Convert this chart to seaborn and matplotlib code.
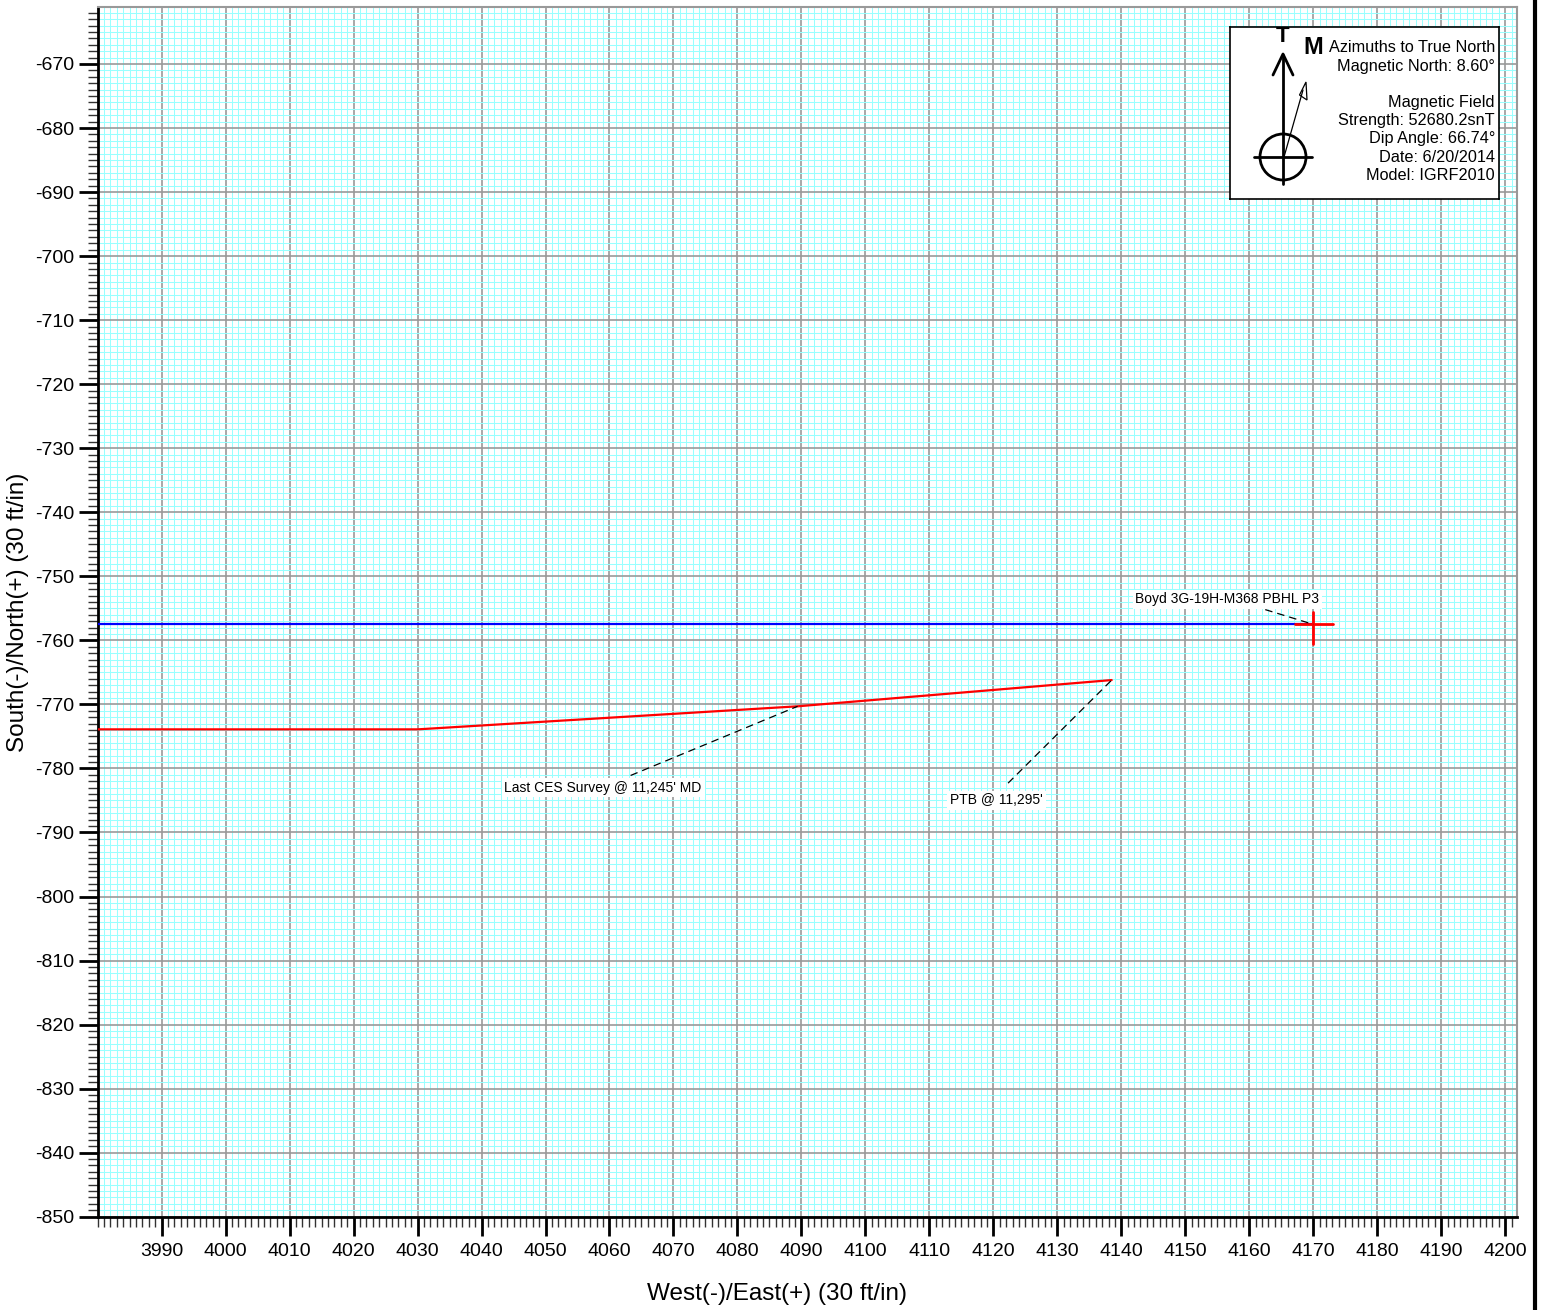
import matplotlib
matplotlib.use("Agg")
import matplotlib.pyplot as plt
from matplotlib.ticker import MultipleLocator, FixedLocator
from matplotlib.patches import Circle, Polygon
from matplotlib.lines import Line2D
import seaborn as sns
import pandas as pd

# ---- data ----
plan_x = [3975, 4170]
plan_y = [-757.5, -757.5]
actual_x = [3975, 4030, 4089.4, 4138.5]
actual_y = [-773.9, -773.9, -770.3, -766.2]
target_x = 4170
target_y = -757.5

x_ticks = [3990, 4000, 4010, 4020, 4030, 4040, 4050, 4060, 4070, 4080, 4090, 4100,
           4110, 4120, 4130, 4140, 4150, 4160, 4170, 4180, 4190, 4200]
y_ticks = [-850, -840, -830, -820, -810, -800, -790, -780, -770, -760, -750, -740,
           -730, -720, -710, -700, -690, -680, -670]

ann_texts = ["Last CES Survey @ 11,245' MD", "PTB @ 11,295'", "Boyd 3G-19H-M368 PBHL P3"]
ann_text_x = [4059.0, 4120.5, 4156.6]
ann_text_y = [-783.0, -785.0, -753.6]
ann_from_x = [4063.3, 4122.3, 4162.5]
ann_from_y = [-781.1, -782.3, -755.2]
ann_to_x = [4089.4, 4138.5, 4170.0]
ann_to_y = [-770.3, -766.2, -757.5]

legend_lines = ["Azimuths to True North", "Magnetic North: 8.60\u00b0", "",
                "Magnetic Field", "Strength: 52680.2snT", "Dip Angle: 66.74\u00b0",
                "Date: 6/20/2014", "Model: IGRF2010"]

sns.set_theme(style="white")
plt.rcParams['font.family'] = ['Liberation Sans', 'DejaVu Sans']
plt.rcParams['axes.unicode_minus'] = False
plt.rcParams['text.color'] = 'black'
plt.rcParams['axes.labelcolor'] = 'black'

W, H = 1541, 1310
fig = plt.figure(figsize=(W / 100, H / 100), dpi=100)
fig.patch.set_facecolor("white")
L, R, T, B = 97.7, 1517.3, 7.0, 1216.7
ax = fig.add_axes([L / W, (H - B) / H, (R - L) / W, (B - T) / H])
ax.set_facecolor("white")

df_plan = pd.DataFrame({"x": plan_x, "y": plan_y})
df_act = pd.DataFrame({"x": actual_x, "y": actual_y})
sns.lineplot(data=df_plan, x="x", y="y", sort=False, color="#0000ff", lw=1.6, ax=ax, zorder=3)
sns.lineplot(data=df_act, x="x", y="y", sort=False, color="#ff0000", lw=1.6, ax=ax, zorder=3)
ax.set_xlabel("")
ax.set_ylabel("")

# target cross
ax.plot([target_x - 2.8, target_x + 3.1], [target_y, target_y], color="#ff0000", lw=2, zorder=4)
ax.plot([target_x, target_x], [target_y + 2.0, target_y - 3.0], color="#ff0000", lw=2, zorder=4)

for t, tx, ty, fx, fy, px, py in zip(ann_texts, ann_text_x, ann_text_y, ann_from_x, ann_from_y, ann_to_x, ann_to_y):
    ax.plot([fx, px], [fy, py], color="black", lw=0.9, ls=(0, (6, 4)), zorder=5)
    ax.text(tx, ty, t, fontsize=10, color="black", ha="center", va="center", zorder=6,
            bbox=dict(facecolor="white", edgecolor="none", pad=2))

ax.xaxis.set_major_locator(FixedLocator(x_ticks))
ax.xaxis.set_minor_locator(MultipleLocator(1))
ax.yaxis.set_major_locator(FixedLocator(y_ticks))
ax.yaxis.set_minor_locator(MultipleLocator(1))
ax.set_xlim(3980, 4201.9)
ax.set_ylim(-850, -661.1)
ax.grid(which="minor", color="#99ffff", lw=0.75, zorder=0)
ax.grid(which="major", color="#999999", lw=1.2, zorder=1)
ax.set_axisbelow(True)

ax.tick_params(axis="both", which="major", direction="out", length=14, width=2, color="black",
               labelsize=14, labelcolor="black")
ax.tick_params(axis="x", which="major", pad=5)
ax.tick_params(axis="y", which="major", pad=3)
ax.tick_params(axis="both", which="minor", direction="out", length=7, width=1, color="#333333")
ax.tick_params(bottom=True, left=True, top=False, right=False, which="both")

for s in ["left", "bottom"]:
    ax.spines[s].set_color("black")
    ax.spines[s].set_linewidth(2)
for s in ["top", "right"]:
    ax.spines[s].set_color("#999999")
    ax.spines[s].set_linewidth(1.5)

fig.text(777 / W, 1 - 1294 / H, "West(-)/East(+) (30 ft/in)", fontsize=17.5, color="black",
         ha="center", va="center")
fig.text(18 / W, 1 - 612 / H, "South(-)/North(+) (30 ft/in)", fontsize=17.5, color="black",
         ha="center", va="center", rotation=90)

# right border line
fig.add_artist(Line2D([1535 / W, 1535 / W], [0, 1], transform=fig.transFigure, color="black", lw=3))

# ---- north arrow / magnetic info box ----
bx0, bx1, by0, by1 = 1230, 1499, 27, 199
lg = fig.add_axes([bx0 / W, (H - by1) / H, (bx1 - bx0) / W, (by1 - by0) / H])
lg.set_xlim(bx0, bx1)
lg.set_ylim(by1, by0)
lg.set_xticks([])
lg.set_yticks([])
lg.set_facecolor("white")
for s in lg.spines.values():
    s.set_color("black")
    s.set_linewidth(1.2)
lg.plot([1283, 1283], [184, 55], color="black", lw=2)
lg.plot([1273, 1283, 1293], [75, 54, 75], color="black", lw=2)
lg.add_patch(Circle((1283, 157), 23, fill=False, ec="black", lw=2))
lg.plot([1254, 1312], [157, 157], color="black", lw=2)
lg.plot([1284, 1303], [157, 90], color="black", lw=0.9)
lg.add_patch(Polygon([[1306, 82], [1299.5, 95], [1307, 100]], closed=True, fill=False, ec="black", lw=0.9))
lg.text(1283, 36, "T", fontsize=16, fontweight="bold", color="black", ha="center", va="center")
lg.text(1313, 47, "M", fontsize=17, fontweight="bold", color="black", ha="center", va="center")
ys = [48, 67, 85, 103, 121, 139, 157, 176]
for t, y in zip(legend_lines, ys):
    if t:
        lg.text(1495, y, t, fontsize=11.7, color="black", ha="right", va="center")

fig.savefig("out.png", dpi=100, facecolor="white")
